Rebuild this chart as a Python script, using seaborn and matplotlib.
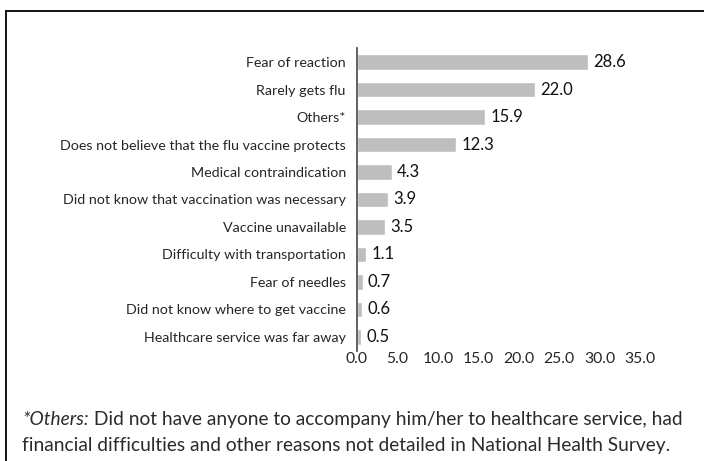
import matplotlib
matplotlib.use("Agg")
import matplotlib.pyplot as plt
from matplotlib.lines import Line2D
import seaborn as sns
import pandas as pd

categories = [
    "Fear of reaction",
    "Rarely gets flu",
    "Others*",
    "Does not believe that the flu vaccine protects",
    "Medical contraindication",
    "Did not know that vaccination was necessary",
    "Vaccine unavailable",
    "Difficulty with transportation",
    "Fear of needles",
    "Did not know where to get vaccine",
    "Healthcare service was far away",
]
values = [28.6, 22.0, 15.9, 12.3, 4.3, 3.9, 3.5, 1.1, 0.7, 0.6, 0.5]
xticks = [0, 5, 10, 15, 20, 25, 30, 35]

sns.set_theme(style="white")
plt.rcParams["font.family"] = ["Lato", "DejaVu Sans"]

df = pd.DataFrame({"reason": categories, "pct": values})

fig = plt.figure(figsize=(7.04, 4.61), dpi=100)
ax = fig.add_axes([0.507, 0.2392, 0.402, 0.6561])

sns.barplot(data=df, y="reason", x="pct", color="#BEBEBE", saturation=1,
            width=0.55, ax=ax, orient="h")

ax.set_xlim(0, 35)
ax.set_ylim(10.5, -0.5)
ax.set_xticks(xticks)
ax.set_xticklabels([f"{v:.1f}" for v in xticks], fontsize=11.3)
ax.tick_params(axis="x", length=0, pad=1)
ax.tick_params(axis="y", length=0, pad=8, labelsize=10.3)
ax.set_xlabel("")
ax.set_ylabel("")
for s in ["top", "right", "bottom"]:
    ax.spines[s].set_visible(False)
ax.spines["left"].set_color("#555555")
ax.spines["left"].set_linewidth(1.3)

for i, v in enumerate(values):
    ax.annotate(f"{v:.1f}", xy=(v, i), xytext=(3.8, 0), textcoords="offset points",
                va="center", ha="left", fontsize=12, color="#111111")

# figure frame lines (top and left)
fig.add_artist(Line2D([6/704, 1.0], [1 - 11/461, 1 - 11/461],
                      transform=fig.transFigure, color="black", lw=1.3))
fig.add_artist(Line2D([6/704, 6/704], [1 - 11/461, 0.0],
                      transform=fig.transFigure, color="black", lw=1.3))

fs = 13.8
t1 = fig.text(22/704, 1 - 425/461, "*Others:", fontsize=fs, style="italic",
              ha="left", va="baseline", color="#2a2a2a")
ax.annotate(" Did not have anyone to accompany him/her to healthcare service, had",
            xy=(1, 0), xycoords=t1, xytext=(0, 0), textcoords="offset points",
            ha="left", va="bottom", fontsize=fs, color="#2a2a2a",
            annotation_clip=False)
fig.text(22/704, 1 - 451/461,
         "financial difficulties and other reasons not detailed in National Health Survey.",
         fontsize=fs, ha="left", va="baseline", color="#2a2a2a")

fig.savefig("out.png", dpi=100)
